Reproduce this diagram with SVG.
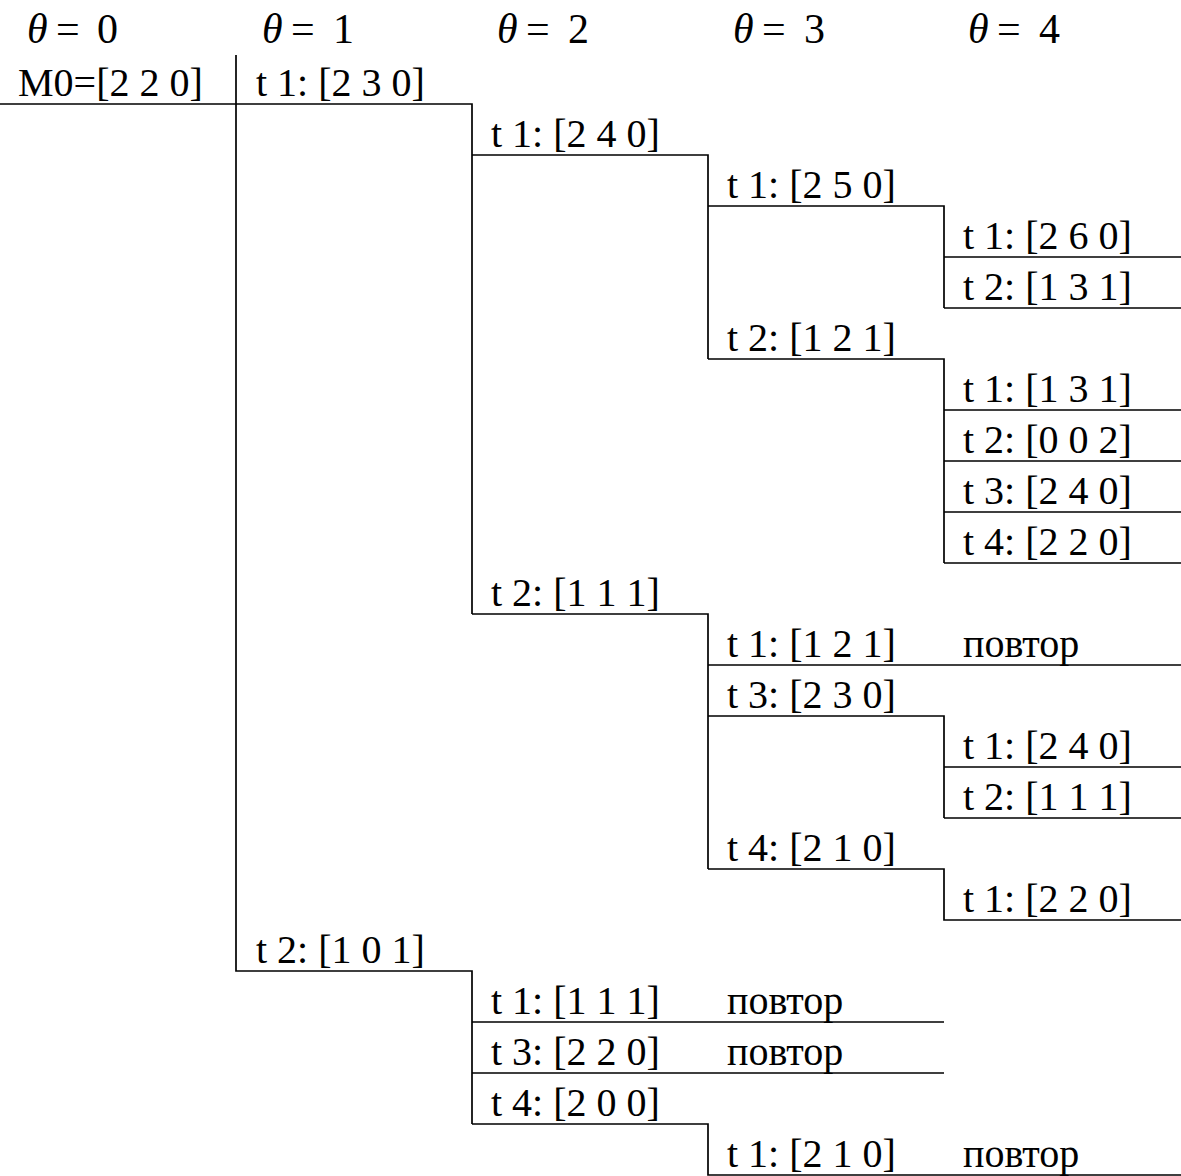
<svg xmlns="http://www.w3.org/2000/svg" width="1181" height="1176" viewBox="0 0 1181 1176">
<style>
text{font-family:"Liberation Serif","Times New Roman",serif;fill:#000}
.l{font-size:40px}
.h{font-size:42px}
.th{font-style:italic}
.c{fill:none;stroke:#000;stroke-width:1.7}
</style>
<rect width="1181" height="1176" fill="#fff"/>
<g id="headers">
<text class="h" x="27" y="43"><tspan class="th">θ</tspan><tspan x="56">=</tspan><tspan x="97">0</tspan></text>
<text class="h" x="262" y="43"><tspan class="th">θ</tspan><tspan x="291">=</tspan><tspan x="333">1</tspan></text>
<text class="h" x="497" y="43"><tspan class="th">θ</tspan><tspan x="526">=</tspan><tspan x="568">2</tspan></text>
<text class="h" x="733" y="43"><tspan class="th">θ</tspan><tspan x="762">=</tspan><tspan x="804">3</tspan></text>
<text class="h" x="968" y="43"><tspan class="th">θ</tspan><tspan x="997">=</tspan><tspan x="1039">4</tspan></text>
</g>
<g id="connectors" class="c">
<path class="c" d="M0 104 H472 V614"/>
<path class="c" d="M236 55 V971 H472 V1124"/>
<path class="c" d="M472 155 H708 V359"/>
<path class="c" d="M708 206 H944 V308"/>
<path class="c" d="M944 257 H1181"/>
<path class="c" d="M944 308 H1181"/>
<path class="c" d="M708 359 H944 V563"/>
<path class="c" d="M944 410 H1181 M944 461 H1181 M944 512 H1181 M944 563 H1181"/>
<path class="c" d="M472 614 H708 V869"/>
<path class="c" d="M708 665 H1181"/>
<path class="c" d="M708 716 H944 V818"/>
<path class="c" d="M944 767 H1181 M944 818 H1181"/>
<path class="c" d="M708 869 H944 V920 H1181"/>
<path class="c" d="M472 1022 H944 M472 1073 H944"/>
<path class="c" d="M472 1124 H708 V1175 H1181"/>
</g>
<g id="n-m0"><text class="l" x="18" y="96">M0=[2 2 0]</text></g>
<g id="n-1"><text class="l" x="256" y="96">t 1: [2 3 0]</text></g>
<g id="n-2"><text class="l" x="491" y="147">t 1: [2 4 0]</text></g>
<g id="n-3"><text class="l" x="727" y="198">t 1: [2 5 0]</text></g>
<g id="n-4"><text class="l" x="963" y="249">t 1: [2 6 0]</text></g>
<g id="n-5"><text class="l" x="963" y="300">t 2: [1 3 1]</text></g>
<g id="n-6"><text class="l" x="727" y="351">t 2: [1 2 1]</text></g>
<g id="n-7"><text class="l" x="963" y="402">t 1: [1 3 1]</text></g>
<g id="n-8"><text class="l" x="963" y="453">t 2: [0 0 2]</text></g>
<g id="n-9"><text class="l" x="963" y="504">t 3: [2 4 0]</text></g>
<g id="n-10"><text class="l" x="963" y="555">t 4: [2 2 0]</text></g>
<g id="n-11"><text class="l" x="491" y="606">t 2: [1 1 1]</text></g>
<g id="n-12"><text class="l" x="727" y="657">t 1: [1 2 1]</text><text class="l" x="963" y="657">повтор</text></g>
<g id="n-13"><text class="l" x="727" y="708">t 3: [2 3 0]</text></g>
<g id="n-14"><text class="l" x="963" y="759">t 1: [2 4 0]</text></g>
<g id="n-15"><text class="l" x="963" y="810">t 2: [1 1 1]</text></g>
<g id="n-16"><text class="l" x="727" y="861">t 4: [2 1 0]</text></g>
<g id="n-17"><text class="l" x="963" y="912">t 1: [2 2 0]</text></g>
<g id="n-18"><text class="l" x="256" y="963">t 2: [1 0 1]</text></g>
<g id="n-19"><text class="l" x="491" y="1014">t 1: [1 1 1]</text><text class="l" x="727" y="1014">повтор</text></g>
<g id="n-20"><text class="l" x="491" y="1065">t 3: [2 2 0]</text><text class="l" x="727" y="1065">повтор</text></g>
<g id="n-21"><text class="l" x="491" y="1116">t 4: [2 0 0]</text></g>
<g id="n-22"><text class="l" x="727" y="1167">t 1: [2 1 0]</text><text class="l" x="963" y="1167">повтор</text></g>
</svg>
